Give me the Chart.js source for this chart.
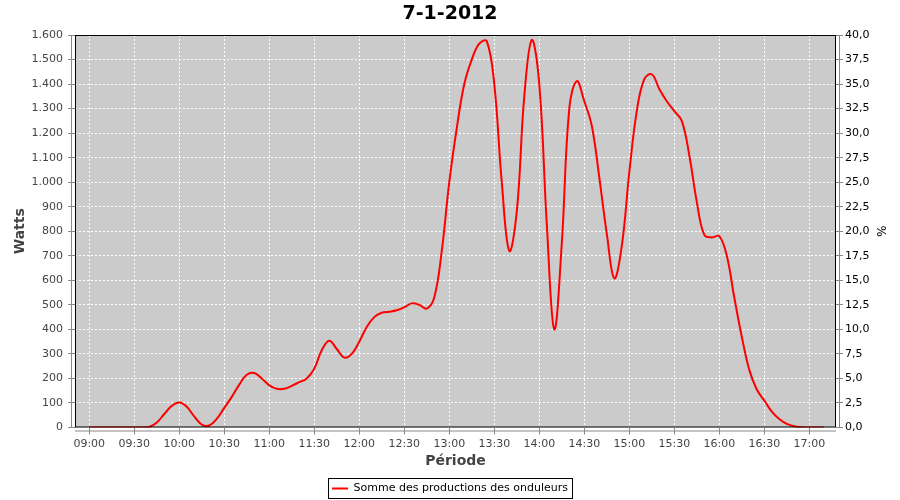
<!DOCTYPE html>
<html>
<head>
<meta charset="utf-8">
<script src="https://cdn.jsdelivr.net/npm/chart.js@4.4.1/dist/chart.umd.min.js"></script>
<style>
  html, body { margin: 0; padding: 0; background: #fff; }
  #wrap { width: 900px; height: 500px; }
</style>
</head>
<body>
<div id="wrap"><canvas id="chart"></canvas></div>
<script>
// données
const heures = ['09:00', '09:05', '09:10', '09:15', '09:20', '09:25', '09:30', '09:35', '09:40', '09:45',
  '09:50', '09:55', '10:00', '10:05', '10:10', '10:15', '10:20', '10:25', '10:30', '10:35',
  '10:40', '10:45', '10:50', '10:55', '11:00', '11:05', '11:10', '11:15', '11:20', '11:25',
  '11:30', '11:35', '11:40', '11:45', '11:50', '11:55', '12:00', '12:05', '12:10', '12:15',
  '12:20', '12:25', '12:30', '12:35', '12:40', '12:45', '12:50', '12:55', '13:00', '13:05',
  '13:10', '13:15', '13:20', '13:25', '13:30', '13:35', '13:40', '13:45', '13:50', '13:55',
  '14:00', '14:05', '14:10', '14:15', '14:20', '14:25', '14:30', '14:35', '14:40', '14:45',
  '14:50', '14:55', '15:00', '15:05', '15:10', '15:15', '15:20', '15:25', '15:30', '15:35',
  '15:40', '15:45', '15:50', '15:55', '16:00', '16:05', '16:10', '16:15', '16:20', '16:25',
  '16:30', '16:35', '16:40', '16:45', '16:50', '16:55', '17:00', '17:05', '17:10'];
const watts = [0, 0, 0, 0, 0, 0, 0, 0, 2, 20,
  55, 88, 102, 85, 45, 12, 8, 35, 80, 125,
  175, 215, 222, 200, 172, 158, 158, 170, 185, 200,
  240, 315, 354, 320, 285, 300, 350, 410, 450, 468,
  472, 478, 490, 506, 500, 485, 530, 720, 1000, 1220,
  1400, 1500, 1565, 1575, 1400, 1000, 720, 880, 1350, 1580,
  1400, 830, 400, 750, 1300, 1412, 1330, 1230, 1020, 790,
  608, 740, 1040, 1290, 1420, 1440, 1380, 1330, 1290, 1250,
  1110, 920, 785, 775, 780, 700, 530, 370, 235, 155,
  110, 65, 35, 15, 5, 1, 0, 0, 0];
const ticksPeriode = ['09:00', '09:30', '10:00', '10:30', '11:00', '11:30', '12:00', '12:30',
  '13:00', '13:30', '14:00', '14:30', '15:00', '15:30', '16:00', '16:30', '17:00'];

function enMinutes(h) {
  const p = h.split(':');
  return (parseInt(p[0]) - 9) * 60 + parseInt(p[1]);
}
function enHeure(m) {
  const h = Math.floor(m / 60) + 9, mm = m % 60;
  return String(h).padStart(2, '0') + ':' + String(mm).padStart(2, '0');
}

Chart.defaults.font.family = 'DejaVu Sans';
Chart.defaults.font.size = 11;
Chart.defaults.color = '#444';

const fondPlot = {
  id: 'fondPlot',
  beforeDraw(chart) {
    const c = chart.ctx, a = chart.chartArea;
    c.save();
    c.fillStyle = '#cbcbcb';
    c.fillRect(a.left, a.top, a.right - a.left, a.bottom - a.top);
    c.restore();
  },
  afterDraw(chart) {
    const c = chart.ctx, a = chart.chartArea;
    c.save();
    c.strokeStyle = '#000';
    c.lineWidth = 1;
    c.strokeRect(a.left + 0.5, a.top + 0.5, a.right - a.left - 1, a.bottom - a.top - 1);
    // axes décalés
    c.strokeStyle = '#888';
    c.beginPath();
    c.moveTo(a.left - 3.5, a.top); c.lineTo(a.left - 3.5, a.bottom);
    c.moveTo(a.right + 3.5, a.top); c.lineTo(a.right + 3.5, a.bottom);
    c.moveTo(a.left, a.bottom + 3.5); c.lineTo(a.right, a.bottom + 3.5);
    c.stroke();
    // cadre de la légende
    const hb = chart.legend.legendHitBoxes[0];
    if (hb) {
      c.strokeStyle = '#000';
      c.strokeRect(Math.round(hb.left - 4) + 0.5, Math.round(hb.top - 5) + 0.5,
        Math.round(hb.width + 8), Math.round(hb.height + 9));
    }
    c.restore();
  }
};

new Chart(document.getElementById('chart'), {
  type: 'line',
  data: {
    datasets: [{
      label: 'Somme des productions des onduleurs',
      data: heures.map((h, i) => ({ x: enMinutes(h), y: watts[i] })),
      borderColor: '#ff0000',
      backgroundColor: '#ff0000',
      borderWidth: 2,
      pointRadius: 0,
      tension: 0.4,
      yAxisID: 'y'
    }]
  },
  options: {
    responsive: true,
    maintainAspectRatio: false,
    animation: false,
    layout: { padding: { top: 0, left: 0, right: 0, bottom: -4 } },
    plugins: {
      title: {
        display: true,
        text: '7-1-2012',
        color: '#000',
        font: { size: 19, weight: 'bold' },
        padding: { top: 3, bottom: 9.2 }
      },
      legend: {
        position: 'bottom',
        labels: {
          usePointStyle: true,
          pointStyle: 'line',
          pointStyleWidth: 16,
          padding: 2.5,
          color: '#000',
          font: { size: 11 }
        }
      },
      tooltip: { enabled: false }
    },
    scales: {
      x: {
        type: 'linear',
        min: -9.5,
        max: 497.8,
        afterBuildTicks(scale) {
          scale.ticks = ticksPeriode.map(t => ({ value: enMinutes(t) }));
        },
        afterFit(scale) { scale.height = 53; },
        ticks: {
          callback: v => enHeure(v),
          maxRotation: 0,
          autoSkip: false,
          padding: 3
        },
        grid: {
          color: '#fff',
          tickColor: '#888',
          tickBorderDash: [],
          tickLength: 7
        },
        border: { display: false, dash: [2, 2] },
        title: {
          display: true,
          text: 'Période',
          color: '#444',
          font: { size: 14, weight: 'bold' },
          padding: { top: 0, bottom: 10.6 }
        }
      },
      y: {
        position: 'left',
        min: 0,
        max: 1600,
        afterFit(scale) { scale.width = 75; },
        ticks: {
          stepSize: 100,
          padding: 5,
          callback: v => v.toLocaleString('de-DE')
        },
        grid: {
          color: '#fff',
          tickColor: '#888',
          tickBorderDash: [],
          tickLength: 7
        },
        border: { display: false, dash: [2, 2] },
        title: {
          display: true,
          text: 'Watts',
          color: '#444',
          font: { size: 14, weight: 'bold' },
          padding: { top: 12, bottom: 0 }
        }
      },
      y2: {
        position: 'right',
        min: 0,
        max: 40,
        afterFit(scale) { scale.width = 64; },
        ticks: {
          stepSize: 2.5,
          padding: 2,
          color: '#000',
          callback: v => v.toFixed(1).replace('.', ',')
        },
        grid: {
          drawOnChartArea: false,
          tickColor: '#888',
          tickLength: 7
        },
        border: { display: false },
        title: {
          display: true,
          text: '%',
          color: '#000',
          font: { size: 12 },
          padding: { top: 13, bottom: 0 }
        }
      }
    }
  },
  plugins: [fondPlot]
});
</script>
</body>
</html>
